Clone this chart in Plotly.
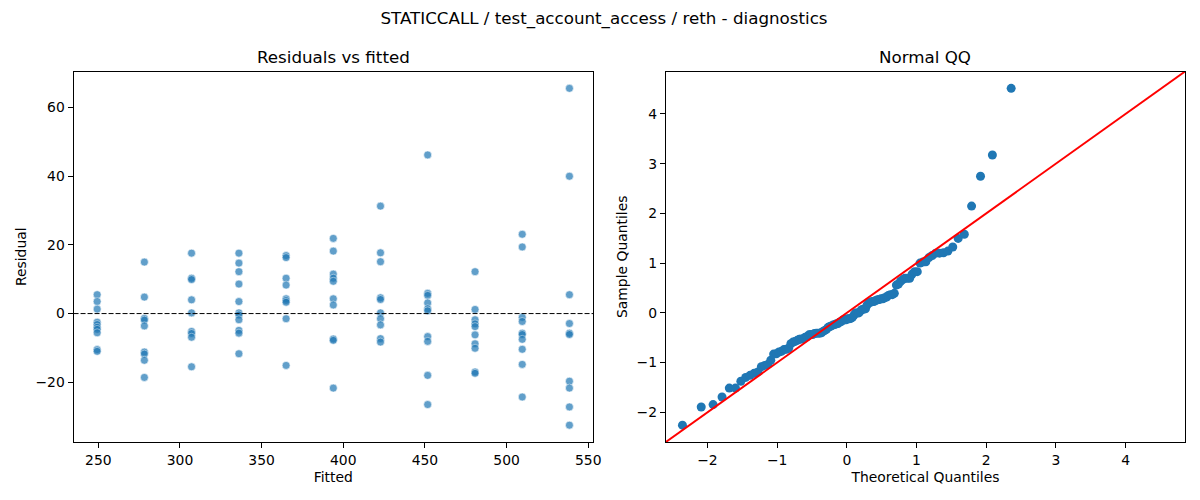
import numpy as np
import plotly.graph_objects as go
from plotly.subplots import make_subplots
from statistics import NormalDist

fitted_levels = [249.3, 278.2, 307.1, 336.1, 365.0, 393.9, 422.8, 451.7, 480.7, 509.6, 538.5]
residuals_by_level = [
    [5.5, 3.5, 1.3, -2.5, -3.2, -4.0, -4.6, -5.6, -10.5, -11.0],
    [15.0, 4.8, -1.4, -1.9, -3.6, -11.2, -11.8, -13.6, -18.6],
    [17.6, 10.3, 9.9, 4.0, 0.2, -5.2, -5.8, -6.9, -15.5],
    [17.6, 14.7, 12.2, 8.6, 3.5, 0.2, -0.4, -1.8, -4.9, -5.7, -11.7],
    [16.9, 16.3, 10.3, 8.3, 4.3, 3.8, 3.3, -1.5, -15.1],
    [21.9, 18.2, 11.5, 10.3, 9.4, 4.3, 2.5, -7.4, -7.8, -21.7],
    [31.3, 17.7, 15.1, 4.6, 4.1, 0.2, -1.5, -3.3, -7.3, -8.3],
    [46.2, 5.9, 5.3, 3.1, 1.4, 0.8, -6.7, -8.1, -18.0, -26.5],
    [12.2, 1.2, -1.8, -3.0, -3.8, -6.2, -8.8, -10.1, -17.0, -17.4],
    [23.1, 19.4, -1.1, -2.3, -5.7, -6.1, -7.5, -10.4, -14.8, -24.3],
    [65.6, 40.0, 5.5, -2.9, -5.7, -6.1, -19.7, -21.7, -27.2, -32.5],
]

title = "STATICCALL / test_account_access / reth - diagnostics"
font = "DejaVu Sans"
blue = "#1f77b4"

fitted = []
resid = []
for lvl, vals in zip(fitted_levels, residuals_by_level):
    fitted += [lvl] * len(vals)
    resid += vals
fitted = np.array(fitted)
resid = np.array(resid)

# QQ: standardised sorted residuals against normal quantiles (positions i/(n+1))
n = len(resid)
sample_q = np.sort((resid - resid.mean()) / resid.std())
theo_q = np.array([NormalDist().inv_cdf(i / (n + 1)) for i in range(1, n + 1)])


def padded(lo, hi, m=0.05):
    d = hi - lo
    return lo - m * d, hi + m * d


xr_left = padded(fitted.min(), fitted.max())
yr_left = padded(resid.min(), resid.max())
qx = padded(theo_q.min(), theo_q.max())
qy = padded(sample_q.min(), sample_q.max())
q_lo, q_hi = min(qx[0], qy[0]), max(qx[1], qy[1])

W, H = 1192, 484
left_dom = [66 / W, 589 / W]
right_dom = [662.3 / W, 1185 / W]
y_dom = [1 - 434 / H, 1 - 63.5 / H]

fig = make_subplots(rows=1, cols=2)

fig.add_trace(go.Scatter(
    x=fitted, y=resid, mode="markers",
    marker=dict(color=blue, size=8, opacity=0.7, line=dict(color="white", width=0.6)),
    showlegend=False, hoverinfo="x+y"
), row=1, col=1)

fig.add_trace(go.Scatter(
    x=theo_q, y=sample_q, mode="markers",
    marker=dict(color=blue, size=9),
    showlegend=False
), row=1, col=2)

fig.add_trace(go.Scatter(
    x=[q_lo, q_hi], y=[q_lo, q_hi], mode="lines",
    line=dict(color="red", width=2),
    showlegend=False, hoverinfo="skip"
), row=1, col=2)

fig.add_shape(type="line", xref="x domain", yref="y", x0=0, x1=1, y0=0, y1=0,
              line=dict(color="black", width=1, dash="5px,2px"))

axis_style = dict(showline=True, mirror=True, linecolor="black", linewidth=1,
                  ticks="outside", ticklen=5, tickcolor="black", showgrid=False,
                  zeroline=False, tickfont=dict(size=13.9, color="black"),
                  title_font=dict(size=13.9, color="black"))

fig.update_xaxes(axis_style)
fig.update_yaxes(axis_style)

fig.update_xaxes(domain=left_dom, range=list(xr_left), dtick=50,
                 title_text="Fitted", title_standoff=5, row=1, col=1)
fig.update_yaxes(domain=y_dom, range=list(yr_left), dtick=20,
                 title_text="Residual", title_standoff=5, row=1, col=1)
fig.update_xaxes(domain=right_dom, range=[q_lo, q_hi], dtick=1,
                 title_text="Theoretical Quantiles", title_standoff=5, row=1, col=2)
fig.update_yaxes(domain=y_dom, range=[q_lo, q_hi], dtick=1,
                 title_text="Sample Quantiles", title_standoff=5, row=1, col=2)

fig.add_annotation(text="Residuals vs fitted", x=sum(left_dom) / 2, y=y_dom[1],
                   xref="paper", yref="paper", xanchor="center", yanchor="bottom",
                   yshift=3, showarrow=False, font=dict(size=16.7, color="black"))
fig.add_annotation(text="Normal QQ", x=sum(right_dom) / 2, y=y_dom[1],
                   xref="paper", yref="paper", xanchor="center", yanchor="bottom",
                   yshift=3, showarrow=False, font=dict(size=16.7, color="black"))

fig.update_layout(
    width=W, height=H,
    margin=dict(l=0, r=0, t=0, b=0),
    title=dict(text=title, x=0.5, xanchor="center", y=1 - 10 / H, yanchor="middle",
               font=dict(size=16.7, color="black")),
    font=dict(family=font, color="black"),
    plot_bgcolor="white", paper_bgcolor="white",
)

fig.write_html("out.html")
